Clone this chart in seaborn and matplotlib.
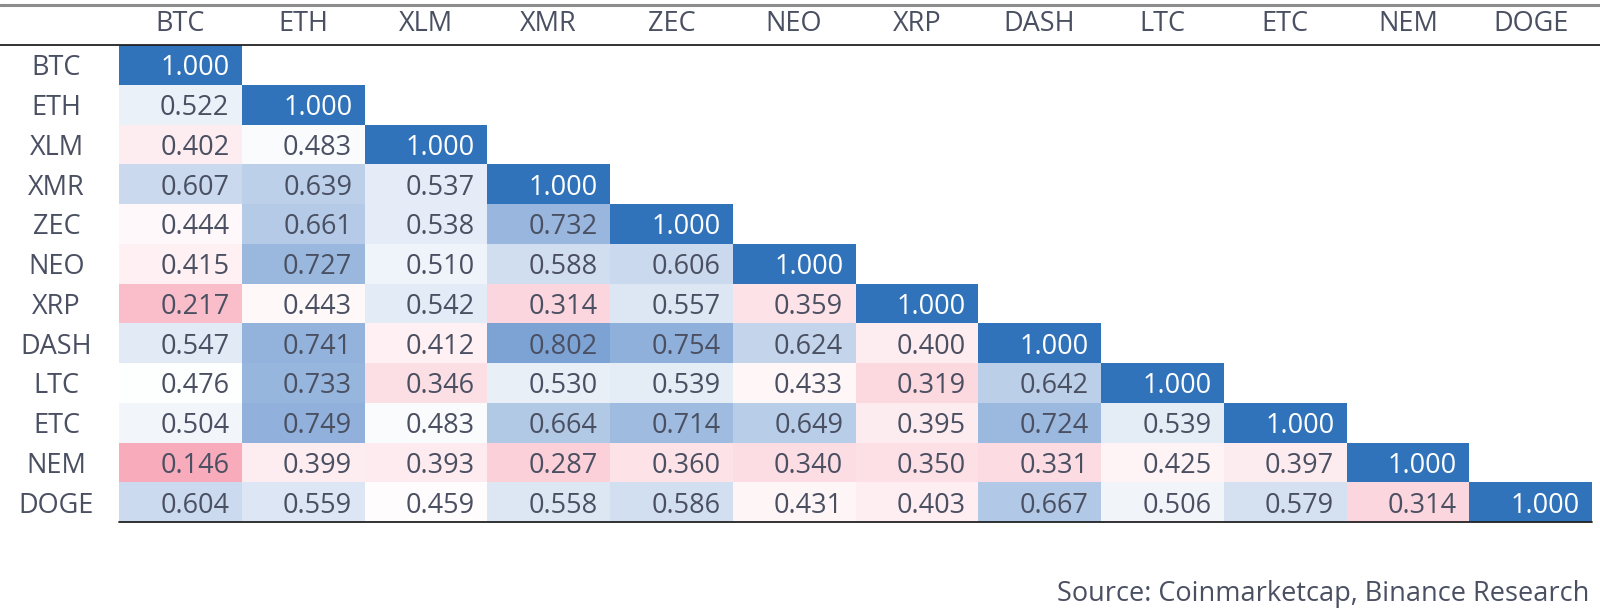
import matplotlib

matplotlib.use("Agg")
import matplotlib.pyplot as plt
import numpy as np
import pandas as pd
import seaborn as sns
from matplotlib.colors import LinearSegmentedColormap, ListedColormap
from matplotlib.lines import Line2D


# Dane - korelacje (dolny trojkat macierzy)
coins = ["BTC", "ETH", "XLM", "XMR", "ZEC", "NEO", "XRP", "DASH", "LTC", "ETC", "NEM", "DOGE"]

btc_row = [1.000]
eth_row = [0.522, 1.000]
xlm_row = [0.402, 0.483, 1.000]
xmr_row = [0.607, 0.639, 0.537, 1.000]
zec_row = [0.444, 0.661, 0.538, 0.732, 1.000]
neo_row = [0.415, 0.727, 0.510, 0.588, 0.606, 1.000]
xrp_row = [0.217, 0.443, 0.542, 0.314, 0.557, 0.359, 1.000]
dash_row = [0.547, 0.741, 0.412, 0.802, 0.754, 0.624, 0.400, 1.000]
ltc_row = [0.476, 0.733, 0.346, 0.530, 0.539, 0.433, 0.319, 0.642, 1.000]
etc_row = [0.504, 0.749, 0.483, 0.664, 0.714, 0.649, 0.395, 0.724, 0.539, 1.000]
nem_row = [0.146, 0.399, 0.393, 0.287, 0.360, 0.340, 0.350, 0.331, 0.425, 0.397, 1.000]
doge_row = [0.604, 0.559, 0.459, 0.558, 0.586, 0.431, 0.403, 0.667, 0.506, 0.579, 0.314, 1.000]

source_text = "Source: Coinmarketcap, Binance Research"

# Ustawienia wygladu
LOW_COLOR = "#F8ABBB"
MID_COLOR = "#FFFFFF"
HIGH_COLOR = "#7DA3D5"
DIAG_COLOR = "#3173BA"
TEXT_COLOR = "#4A5062"
MID_VALUE = 0.47
FONT_SIZE = 19.5

rows = [btc_row, eth_row, xlm_row, xmr_row, zec_row, neo_row, xrp_row,
        dash_row, ltc_row, etc_row, nem_row, doge_row]
matrix = np.full((len(coins), len(coins)), np.nan)
for i, row in enumerate(rows):
    matrix[i, :len(row)] = row
df = pd.DataFrame(matrix, index=coins, columns=coins)

diag_mask = ~np.eye(len(coins), dtype=bool)
off_mask = np.triu(np.ones((len(coins), len(coins)), dtype=bool))

off_values = matrix[~off_mask]
vmin, vmax = off_values.min(), off_values.max()
mid_pos = (MID_VALUE - vmin) / (vmax - vmin)
cmap = LinearSegmentedColormap.from_list(
    "corr", [(0, LOW_COLOR), (mid_pos, MID_COLOR), (1, HIGH_COLOR)]
)

sns.set_theme(style="white")
plt.rcParams["font.family"] = ["Open Sans", "DejaVu Sans"]

fig = plt.figure(figsize=(16, 6.09), dpi=100)
ax = fig.add_axes([119 / 1600, 1 - 522 / 609, 1473 / 1600, 477 / 609])

sns.heatmap(df, mask=off_mask, cmap=cmap, vmin=vmin, vmax=vmax, cbar=False, ax=ax)
sns.heatmap(df, mask=diag_mask, cmap=ListedColormap([DIAG_COLOR]), cbar=False, ax=ax)

# Liczby wyrownane do prawej w komorkach
for i in range(len(coins)):
    for j in range(i + 1):
        value = matrix[i, j]
        color = "white" if i == j else TEXT_COLOR
        ax.text(j + 0.9, i + 0.5, f"{value:.3f}", ha="right", va="center_baseline",
                fontsize=FONT_SIZE, color=color)

ax.xaxis.tick_top()
ax.set_xticklabels(coins, rotation=0, fontsize=FONT_SIZE, color=TEXT_COLOR)
ax.set_yticklabels(coins, rotation=0, fontsize=FONT_SIZE, color=TEXT_COLOR,
                   ha="center", va="center_baseline")
ax.tick_params(axis="x", length=0, pad=5)
ax.tick_params(axis="y", length=0, pad=45)
ax.set_xlabel("")
ax.set_ylabel("")
for spine in ax.spines.values():
    spine.set_visible(False)

# Linie tabeli
fig.add_artist(Line2D([0, 1], [1 - 5 / 609, 1 - 5 / 609], color="#8C8C8C", lw=2.2))
fig.add_artist(Line2D([0, 1], [1 - 45 / 609, 1 - 45 / 609], color="#222222", lw=1.3))
fig.add_artist(Line2D([119 / 1600, 1592 / 1600], [1 - 522 / 609, 1 - 522 / 609],
                      color="#222222", lw=1.3))

fig.text(1589 / 1600, 1 - 591 / 609, source_text, ha="right", va="center_baseline",
         fontsize=FONT_SIZE, color=TEXT_COLOR)

plt.savefig("out.png", dpi=100)
plt.close()
